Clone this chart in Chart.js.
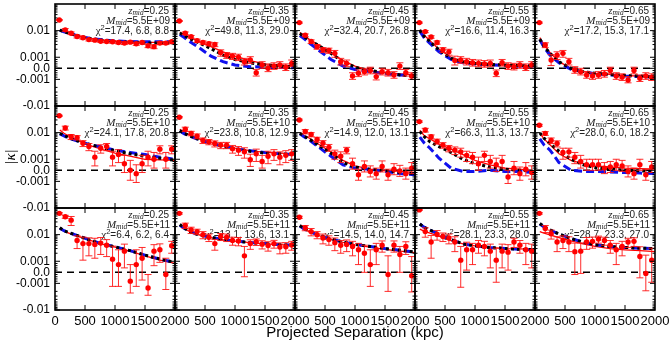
<!DOCTYPE html>
<html>
<head>
<meta charset="utf-8">
<script src="https://cdn.jsdelivr.net/npm/chart.js"></script>
<style>
  html, body { margin: 0; padding: 0; background: #fff; }
  #wrap { width: 672px; height: 347px; }
</style>
</head>
<body>
<div id="wrap"><canvas id="grid" width="672" height="347"></canvas></div>
<script>
// ---- data ----
var sepKpc = [72, 171, 269, 368, 466, 565, 664, 762, 861, 959, 1058, 1157, 1255, 1354, 1452, 1551, 1650, 1748, 1847, 1945];
var modelKpc = [80, 150, 250, 400, 600, 800, 1000, 1250, 1500, 1750, 2000];

var zMid = ['0.25', '0.35', '0.45', '0.55', '0.65'];
var mMid = ['5.5E+09', '5.5E+10', '5.5E+11'];
var chiText = [
  '17.4, 6.8, 8.8', '49.8, 11.3, 29.0', '32.4, 20.7, 26.8', '16.6, 11.4, 16.3', '17.2, 15.3, 17.1',
  '24.1, 17.8, 20.8', '23.8, 10.8, 12.9', '14.9, 12.0, 13.1', '66.3, 11.3, 13.7', '28.0, 6.0, 18.2',
  '6.4, 6.2, 6.4', '13.1, 13.6, 13.1', '14.5, 14.0, 14.7', '28.1, 23.3, 28.0', '28.7, 23.3, 27.0'
];

var yTickVals = [-0.01, -0.001, 0, 0.001, 0.01];
var yTickText = ['-0.01', '-0.001', '0.0', '0.001', '0.01'];
var xTitle = 'Projected Separation (kpc)';

// measured |kappa| per panel (row-major: M09 row, M10 row, M11 row)
var kappa = [
  [0.025, 0.0107, 0.008, 0.006, 0.0054, 0.0046, 0.0044, 0.0040, 0.0039, 0.0038, 0.0036, 0.0034, 0.0037, 0.0032, 0.0036, 0.0027, 0.0025, 0.0034, 0.0034, 0.0038],
  [0.023, 0.008, 0.0059, 0.0042, 0.0036, 0.0032, 0.003, 0.0015, 0.0012, 0.0011, 0.001, 0.0006, 0.00075, -0.0004, 0.0003, 0.0, 0.0002, 0.0003, 0.0001, 0.00045],
  [0.02, 0.0067, 0.0039, 0.0025, 0.0019, 0.0018, 0.0014, 0.0006, 0.00045, -0.0007, -0.00045, -0.0003, -0.0002, -0.00075, -0.0003, -0.0004, -0.0006, 0.0002, -0.0004, -0.0007],
  [0.02, 0.0092, 0.0058, 0.0036, 0.0019, 0.0016, 0.0007, 0.00075, 0.0006, 0.0005, 0.00045, 0.0004, 0.00045, -0.00045, 0.0005, 0.0002, 0.00015, 0.0003, 0.0001, 0.0003],
  [0.02, 0.0029, 0.00075, 0.0012, 0.0014, 0.0006, -0.00015, -0.0003, -0.0006, -0.0007, -0.0006, -0.0005, -0.0002, -0.0007, -0.0008, -0.00105, -0.0002, -0.0009, -0.0007, -0.0008],
  [0.043, 0.015, 0.007, 0.0065, 0.004, 0.003, 0.0012, 0.0026, 0.003, 0.0012, 0.0015, 0.0006, 0.0, -0.0003, 0.0006, 0.0012, 0.001, 0.0024, 0.001, 0.0024],
  [0.038, 0.0135, 0.0094, 0.0074, 0.0051, 0.0045, 0.0039, 0.0034, 0.0034, 0.0025, 0.0022, 0.0019, 0.00095, 0.0016, 0.0008, 0.0013, 0.0016, 0.0012, 0.0014, 0.0016],
  [0.03, 0.011, 0.0085, 0.0055, 0.004, 0.0028, 0.0016, 0.0013, 0.0022, 0.0006, -0.0004, 0.00035, -0.0001, -0.0003, 0.00035, -0.0004, 0.0001, -0.00005, -0.0003, 0.0002],
  [0.026, 0.0125, 0.007, 0.0047, 0.0034, 0.0026, 0.0022, 0.0019, 0.0014, 0.0012, 0.0006, 0.0014, 0.0008, 0.0005, 0.0008, -0.0006, 0.0002, -0.0003, 0.0001, -0.0002],
  [0.019, 0.0094, 0.0051, 0.0039, 0.0018, 0.0019, 0.0012, 0.0008, 0.0005, 0.0005, 0.0005, 0.0002, 0.0003, 0.0005, 0.0004, -0.0001, -0.0003, 0.0005, -0.0004, 0.0003],
  [0.063, 0.047, 0.035, 0.006, 0.0046, 0.0046, 0.0043, 0.0048, 0.004, 0.0012, 0.0007, 0.0024, -0.0008, 0.0007, 0.0013, -0.0015, 0.0024, 0.0027, -0.0002, 0.0038],
  [0.063, 0.022, 0.015, 0.013, 0.01, 0.008, 0.0046, 0.0085, 0.008, 0.006, 0.0058, 0.0016, 0.0046, 0.0054, 0.0044, 0.0039, 0.0046, 0.0034, 0.0035, 0.0041],
  [0.045, 0.018, 0.013, 0.01, 0.0075, 0.0065, 0.005, 0.004, 0.0043, 0.0036, 0.0027, 0.002, 0.0007, 0.0027, 0.004, -0.0002, 0.004, 0.0018, 0.0036, -0.0003],
  [0.085, 0.013, 0.0053, 0.0102, 0.0085, 0.0075, 0.0053, 0.0011, 0.0027, 0.0027, 0.004, 0.0036, 0.0024, 0.0011, 0.0024, 0.0022, 0.0053, 0.004, 0.0027, 0.0024],
  [0.063, 0.017, 0.0108, 0.0053, 0.006, 0.0053, 0.0023, 0.0024, 0.0053, 0.0056, 0.0068, 0.006, 0.004, 0.0027, 0.0036, 0.0053, 0.0056, 0.0015, -0.0001, 0.0011]
];

var kappaErr = [
  [0.0012, 0.0012, 0.0009, 0.0007, 0.0006, 0.0005, 0.0005, 0.0004, 0.0004, 0.0004, 0.0004, 0.0004, 0.0004, 0.0004, 0.0004, 0.0004, 0.0004, 0.0004, 0.0004, 0.0004],
  [0.001, 0.0009, 0.0007, 0.0006, 0.0005, 0.0005, 0.0005, 0.0004, 0.0003, 0.0003, 0.0003, 0.0003, 0.0003, 0.0003, 0.0003, 0.0003, 0.0003, 0.0003, 0.0003, 0.0003],
  [0.001, 0.0008, 0.0006, 0.0005, 0.0004, 0.0004, 0.0004, 0.0003, 0.0003, 0.0003, 0.0003, 0.0003, 0.0003, 0.0003, 0.0003, 0.0003, 0.0003, 0.0003, 0.0003, 0.0003],
  [0.001, 0.0008, 0.0006, 0.0005, 0.0004, 0.0004, 0.0004, 0.0003, 0.0003, 0.0003, 0.0003, 0.0003, 0.0003, 0.0003, 0.0003, 0.0003, 0.0003, 0.0003, 0.0003, 0.0003],
  [0.001, 0.0006, 0.0005, 0.0004, 0.0004, 0.0003, 0.0003, 0.0003, 0.0003, 0.0003, 0.0003, 0.0003, 0.0003, 0.0003, 0.0003, 0.0003, 0.0003, 0.0003, 0.0003, 0.0003],
  [0.002, 0.0025, 0.0015, 0.0012, 0.001, 0.0009, 0.0008, 0.0009, 0.0009, 0.0008, 0.0008, 0.0008, 0.0009, 0.0008, 0.0008, 0.0008, 0.0008, 0.0008, 0.0008, 0.0008],
  [0.002, 0.0025, 0.0018, 0.0015, 0.0012, 0.001, 0.001, 0.0009, 0.0009, 0.0008, 0.0008, 0.0008, 0.0006, 0.0008, 0.0006, 0.0007, 0.0007, 0.0007, 0.0007, 0.0007],
  [0.002, 0.002, 0.0015, 0.0012, 0.001, 0.0008, 0.0006, 0.0006, 0.0006, 0.0005, 0.0005, 0.0005, 0.0005, 0.0005, 0.0005, 0.0005, 0.0005, 0.0005, 0.0005, 0.0005],
  [0.0015, 0.002, 0.0012, 0.001, 0.0008, 0.0007, 0.0007, 0.0007, 0.0006, 0.0006, 0.0006, 0.0006, 0.0006, 0.0006, 0.0006, 0.0006, 0.0006, 0.0006, 0.0006, 0.0006],
  [0.0015, 0.0015, 0.0012, 0.001, 0.0008, 0.0007, 0.0006, 0.0006, 0.0005, 0.0005, 0.0005, 0.0005, 0.0005, 0.0005, 0.0005, 0.0005, 0.0005, 0.0005, 0.0005, 0.0005],
  [0.004, 0.006, 0.013, 0.003, 0.0035, 0.003, 0.003, 0.003, 0.0025, 0.0025, 0.002, 0.002, 0.0015, 0.002, 0.002, 0.0013, 0.0018, 0.0018, 0.0015, 0.0018],
  [0.004, 0.005, 0.004, 0.003, 0.003, 0.0025, 0.002, 0.0025, 0.0025, 0.002, 0.002, 0.002, 0.0018, 0.0015, 0.0015, 0.0015, 0.0015, 0.0015, 0.0015, 0.0015],
  [0.004, 0.004, 0.004, 0.003, 0.003, 0.0025, 0.0025, 0.002, 0.002, 0.002, 0.002, 0.002, 0.002, 0.002, 0.0018, 0.0018, 0.0018, 0.0018, 0.0018, 0.0018],
  [0.004, 0.005, 0.004, 0.004, 0.003, 0.003, 0.003, 0.0025, 0.0025, 0.002, 0.002, 0.002, 0.002, 0.002, 0.002, 0.002, 0.002, 0.002, 0.002, 0.002],
  [0.004, 0.005, 0.004, 0.003, 0.003, 0.003, 0.0025, 0.0025, 0.0025, 0.0025, 0.002, 0.002, 0.002, 0.002, 0.002, 0.002, 0.002, 0.002, 0.0018, 0.002]
];

// model curves sampled at modelKpc
var modelBlack = [
  [0.0105, 0.0092, 0.0078, 0.0062, 0.0050, 0.0043, 0.0039, 0.0036, 0.0034, 0.0034, 0.0035],
  [0.0082, 0.0066, 0.005, 0.0035, 0.0021, 0.0012, 0.0008, 0.0005, 0.0003, 0.0002, 0.0001],
  [0.0078, 0.006, 0.0042, 0.0027, 0.0014, 0.0006, 0.0001, -0.0002, -0.0004, -0.0006, -0.0007],
  [0.0105, 0.0062, 0.0039, 0.0019, 0.0009, 0.0006, 0.00045, 0.00035, 0.0003, 0.00025, 0.0002],
  [0.0048, 0.0026, 0.0014, 0.0006, 0.0, -0.0003, -0.00045, -0.00055, -0.00065, -0.0007, -0.0008],
  [0.0095, 0.0078, 0.0062, 0.0047, 0.0035, 0.0027, 0.0021, 0.0016, 0.0013, 0.0011, 0.0009],
  [0.012, 0.0095, 0.0075, 0.0055, 0.004, 0.003, 0.0024, 0.002, 0.0017, 0.0016, 0.0015],
  [0.0095, 0.0075, 0.0055, 0.0033, 0.0017, 0.0007, 0.0003, 0.0001, 0.0, -0.0002, -0.0003],
  [0.011, 0.0072, 0.0045, 0.003, 0.0018, 0.001, 0.0006, 0.0003, 0.0001, 0.0, -0.0001],
  [0.0098, 0.0062, 0.0039, 0.002, 0.001, 0.0005, 0.00025, 0.0001, 0.0, -0.00005, -0.0001],
  [0.018, 0.014, 0.0115, 0.0088, 0.006, 0.0043, 0.0035, 0.0025, 0.0017, 0.0012, 0.0009],
  [0.024, 0.018, 0.013, 0.0098, 0.0078, 0.0066, 0.0058, 0.005, 0.0046, 0.0042, 0.0039],
  [0.022, 0.017, 0.013, 0.0095, 0.0068, 0.0053, 0.0043, 0.0036, 0.003, 0.0026, 0.0022],
  [0.025, 0.019, 0.015, 0.0102, 0.0065, 0.0045, 0.0038, 0.0033, 0.003, 0.0028, 0.0027],
  [0.026, 0.02, 0.015, 0.0105, 0.0072, 0.0052, 0.0042, 0.0036, 0.0033, 0.0031, 0.003]
];

var modelBlue = [
  [0.0102, 0.009, 0.0077, 0.0062, 0.0051, 0.0045, 0.0041, 0.0039, 0.0038, 0.0038, 0.0039],
  [0.0072, 0.0056, 0.0038, 0.0023, 0.0011, 0.0006, 0.0003, 0.00015, 0.0001, 0.00008, 0.00005],
  [0.0065, 0.005, 0.0033, 0.0018, 0.0008, 0.0002, -0.0001, -0.0003, -0.0005, -0.0006, -0.0007],
  [0.0095, 0.0055, 0.0033, 0.0016, 0.0008, 0.0005, 0.0004, 0.0003, 0.00025, 0.0002, 0.0002],
  [0.0045, 0.0024, 0.0012, 0.0005, -0.0001, -0.0003, -0.0005, -0.0006, -0.0007, -0.00075, -0.0008],
  [0.009, 0.0075, 0.006, 0.0046, 0.0035, 0.0028, 0.0022, 0.0018, 0.0015, 0.0012, 0.001],
  [0.0115, 0.0092, 0.0073, 0.0054, 0.004, 0.0031, 0.0025, 0.0021, 0.0018, 0.0016, 0.0015],
  [0.009, 0.007, 0.005, 0.0028, 0.0013, 0.0005, 0.0002, 0.0001, -0.0001, -0.0003, -0.0004],
  [0.0068, 0.0042, 0.0026, 0.0011, 0.0002, -0.0001, -0.0001, 0.0, -0.0001, -0.0001, -0.0002],
  [0.0058, 0.0035, 0.0022, 0.0007, 0.0, -0.0001, -0.0001, -0.00015, -0.0002, -0.00025, -0.0003],
  [0.0175, 0.014, 0.0115, 0.0088, 0.006, 0.0044, 0.0035, 0.0025, 0.0017, 0.0012, 0.0009],
  [0.023, 0.0175, 0.013, 0.0098, 0.0078, 0.0066, 0.0058, 0.0051, 0.0046, 0.0042, 0.004],
  [0.021, 0.0165, 0.0128, 0.0094, 0.0068, 0.0053, 0.0043, 0.0036, 0.003, 0.0026, 0.0022],
  [0.025, 0.019, 0.015, 0.0102, 0.0065, 0.0045, 0.0038, 0.0033, 0.003, 0.0028, 0.0027],
  [0.025, 0.0195, 0.0148, 0.0105, 0.0072, 0.0052, 0.0042, 0.0036, 0.0033, 0.0031, 0.003]
];

var fitRed = [
  [0.0108, 0.0094, 0.0079, 0.0063, 0.0051, 0.0044, 0.0040, 0.0037, 0.0036, 0.0036, 0.0038],
  [0.0087, 0.0071, 0.0055, 0.004, 0.0025, 0.0016, 0.0011, 0.0007, 0.0004, 0.0003, 0.0002],
  [0.0085, 0.0065, 0.0045, 0.0029, 0.0015, 0.0007, 0.0002, -0.0002, -0.0004, -0.0005, -0.0006],
  [0.011, 0.0068, 0.0042, 0.002, 0.001, 0.0006, 0.0005, 0.0004, 0.0003, 0.00025, 0.0002],
  [0.0055, 0.003, 0.0015, 0.0006, 0.0, -0.0003, -0.00045, -0.00055, -0.00065, -0.0007, -0.00085],
  [0.0125, 0.0095, 0.007, 0.0048, 0.0032, 0.0023, 0.0017, 0.0013, 0.001, 0.00095, 0.0009],
  [0.0135, 0.0105, 0.008, 0.0058, 0.0042, 0.0032, 0.0026, 0.0021, 0.0018, 0.0017, 0.0016],
  [0.01, 0.008, 0.006, 0.0036, 0.0019, 0.0009, 0.0004, 0.0001, 0.0, -0.0001, -0.0002],
  [0.012, 0.008, 0.0058, 0.0037, 0.0024, 0.0015, 0.0009, 0.0005, 0.0002, 0.0001, -0.0001],
  [0.0095, 0.0058, 0.0035, 0.0016, 0.0009, 0.0006, 0.0004, 0.0003, 0.0002, 0.00015, 0.0001],
  [0.0165, 0.0135, 0.011, 0.0085, 0.006, 0.0043, 0.0034, 0.0024, 0.0016, 0.0011, 0.0008],
  [0.022, 0.017, 0.0128, 0.0097, 0.0077, 0.0065, 0.0057, 0.005, 0.0045, 0.0042, 0.0039],
  [0.02, 0.016, 0.0125, 0.0092, 0.0066, 0.0051, 0.0041, 0.0034, 0.0028, 0.0024, 0.0021],
  [0.016, 0.0135, 0.0115, 0.0088, 0.006, 0.0045, 0.0038, 0.0033, 0.003, 0.0029, 0.0028],
  [0.013, 0.0115, 0.0098, 0.0078, 0.0058, 0.0045, 0.0036, 0.003, 0.0027, 0.0025, 0.0023]
];

var SANS = 'Arial, Helvetica, sans-serif';
var SERIF = '"Times New Roman", Times, serif';

// ---- symmetric log axis (linear inside +-0.001) ----
var LIN = 0.001, LINW = 0.415;
function symT(v) {
  var a = Math.abs(v);
  if (a <= LIN) return v / LIN * LINW;
  return Math.sign(v) * (LINW + Math.log10(a / LIN));
}
function symInv(t) {
  var a = Math.abs(t);
  if (a <= LINW) return t / LINW * LIN;
  return Math.sign(t) * LIN * Math.pow(10, a - LINW);
}

class SymlogScale extends Chart.LinearScale {
  buildTicks() {
    return yTickVals.map(function(v) { return {value: v}; });
  }
  getPixelForValue(v) {
    if (v === null || isNaN(v)) return NaN;
    var a = symT(this.min), b = symT(this.max);
    return this.getPixelForDecimal((symT(v) - a) / (b - a));
  }
  getValueForPixel(p) {
    var a = symT(this.min), b = symT(this.max);
    return symInv(a + this.getDecimalForPixel(p) * (b - a));
  }
}
SymlogScale.id = 'symlog';
SymlogScale.defaults = {};
Chart.register(SymlogScale);

// ---- scales: 5 x axes stacked side by side, 3 y axes stacked top to bottom ----
var scales = {};
for (var c = 0; c < 5; c++) {
  scales['x' + c] = {
    type: 'linear', position: 'bottom', stack: 'cols', stackWeight: 1, weight: c,
    min: 0, max: 2000,
    grid: {display: false, drawTicks: false}, border: {display: false},
    ticks: {
      stepSize: 500, autoSkip: false, maxRotation: 0, padding: 4, color: '#000',
      font: {family: SANS, size: 13},
      callback: (function(col) {
        return function(v) { return (v === 0 && col > 0) ? '' : String(v); };
      })(c)
    },
    afterFit: function(s) {
      s.height = 37;
      s.paddingLeft = 0; s.paddingRight = 0; s.paddingTop = 0; s.paddingBottom = 0;
    }
  };
}
for (var r = 0; r < 3; r++) {
  scales['y' + r] = {
    type: 'symlog', position: 'left', stack: 'rows', stackWeight: 1, weight: 3 - r,
    min: -0.01, max: 0.1,
    grid: {display: false, drawTicks: false}, border: {display: false},
    ticks: {
      autoSkip: false, padding: 5, color: '#000',
      font: {family: SANS, size: 12},
      callback: function(v) { return yTickText[yTickVals.indexOf(v)]; }
    },
    title: {
      display: r === 1, text: '|κ|', color: '#000',
      font: {family: SERIF, size: 15, style: 'italic'}, padding: {top: 2, bottom: 0}
    },
    afterFit: function(s) {
      s.width = 55;
      s.paddingLeft = 0; s.paddingRight = 0; s.paddingTop = 0; s.paddingBottom = 0;
    }
  };
}

// ---- datasets ----
var datasets = [];
for (var r = 0; r < 3; r++) {
  for (var c = 0; c < 5; c++) {
    var p = r * 5 + c;
    var xid = 'x' + c, yid = 'y' + r;
    datasets.push({
      label: 'data', isPoints: true, errs: kappaErr[p], panel: p,
      data: sepKpc.map(function(x, i) { return {x: x, y: kappa[p][i]}; }),
      showLine: false, pointRadius: 2.7, pointBorderWidth: 0,
      pointBackgroundColor: '#ff0000', borderColor: '#ff0000',
      xAxisID: xid, yAxisID: yid, order: 0
    });
    datasets.push({
      label: 'black',
      data: modelKpc.map(function(x, i) { return {x: x, y: modelBlack[p][i]}; }),
      borderColor: '#000', borderWidth: 3, borderDash: [3, 3], pointRadius: 0, fill: false,
      xAxisID: xid, yAxisID: yid, order: 1
    });
    datasets.push({
      label: 'blue',
      data: modelKpc.map(function(x, i) { return {x: x, y: modelBlue[p][i]}; }),
      borderColor: '#1010ee', borderWidth: 3, borderDash: [8, 4], pointRadius: 0, fill: false,
      xAxisID: xid, yAxisID: yid, order: 2
    });
    datasets.push({
      label: 'fit',
      data: modelKpc.map(function(x, i) { return {x: x, y: fitRed[p][i]}; }),
      borderColor: '#ff0000', borderWidth: 1.3, pointRadius: 0, fill: false,
      xAxisID: xid, yAxisID: yid, order: 3
    });
  }
}

function panelBox(chart, r, c) {
  var xs = chart.scales['x' + c], ys = chart.scales['y' + r];
  return {xs: xs, ys: ys, L: xs.left, R: xs.right, T: ys.top, B: ys.bottom};
}

function drawRich(ctx, parts, right, midY) {
  var w = 0;
  parts.forEach(function(pt) { ctx.font = pt.font; pt.w = ctx.measureText(pt.text).width; w += pt.w; });
  var x = right - w;
  ctx.textAlign = 'left';
  ctx.textBaseline = 'middle';
  parts.forEach(function(pt) { ctx.font = pt.font; ctx.fillText(pt.text, x, midY + (pt.dy || 0)); x += pt.w; });
}

var ITAL = 'italic 11px ' + SERIF;
var SUB = 'italic 7.5px ' + SERIF;
var TXT = '10px ' + SANS;

// panel labels + zero lines under the data
var underPlugin = {
  id: 'under',
  beforeDatasetsDraw: function(chart) {
    var ctx = chart.ctx;
    for (var r = 0; r < 3; r++) {
      for (var c = 0; c < 5; c++) {
        var b = panelBox(chart, r, c), p = r * 5 + c;
        ctx.save();
        ctx.fillStyle = '#222';
        drawRich(ctx, [{text: 'z', font: ITAL}, {text: 'mid', font: SUB, dy: 2.5}, {text: '=' + zMid[c], font: TXT}], b.R - 6, b.T + 7);
        drawRich(ctx, [{text: 'M', font: ITAL}, {text: 'mid', font: SUB, dy: 2.5}, {text: '=' + mMid[r], font: TXT}], b.R - 5, b.T + 17);
        drawRich(ctx, [{text: 'χ', font: '11px ' + SERIF}, {text: '2', font: '7.5px ' + SANS, dy: -3.5}, {text: '=' + chiText[p], font: TXT}], b.R - 6, b.T + 27);
        var y0 = b.ys.getPixelForValue(0);
        ctx.strokeStyle = '#000';
        ctx.lineWidth = 1.5;
        ctx.setLineDash([7, 5]);
        ctx.beginPath();
        ctx.moveTo(b.L, y0);
        ctx.lineTo(b.R, y0);
        ctx.stroke();
        ctx.restore();
      }
    }
  },
  // error bars under each points dataset
  beforeDatasetDraw: function(chart, args) {
    var ds = chart.data.datasets[args.index];
    if (!ds.isPoints) return;
    var meta = args.meta, ctx = chart.ctx;
    var xs = chart.scales[meta.xAxisID], ys = chart.scales[meta.yAxisID];
    ctx.save();
    ctx.beginPath();
    ctx.rect(xs.left, ys.top, xs.right - xs.left, ys.bottom - ys.top);
    ctx.clip();
    ctx.strokeStyle = 'rgba(255,20,20,0.9)';
    ctx.lineWidth = 1;
    ds.data.forEach(function(pt, i) {
      var e = ds.errs[i];
      var x = xs.getPixelForValue(pt.x);
      var y1 = ys.getPixelForValue(pt.y - e), y2 = ys.getPixelForValue(pt.y + e);
      ctx.beginPath();
      ctx.moveTo(x, y1); ctx.lineTo(x, y2);
      ctx.moveTo(x - 3.5, y1); ctx.lineTo(x + 3.5, y1);
      ctx.moveTo(x - 3.5, y2); ctx.lineTo(x + 3.5, y2);
      ctx.stroke();
    });
    ctx.restore();
  }
};

// frames, inward tick marks and the shared x title on top
var framePlugin = {
  id: 'frame',
  afterDraw: function(chart) {
    var ctx = chart.ctx;
    var minor = [];
    [0.0002, 0.0004, 0.0006, 0.0008].forEach(function(v) { minor.push(v, -v); });
    for (var m = 2; m <= 9; m++) { minor.push(m * 0.001, m * 0.01, -m * 0.001); }
    for (var r = 0; r < 3; r++) {
      for (var c = 0; c < 5; c++) {
        var b = panelBox(chart, r, c);
        ctx.save();
        ctx.strokeStyle = '#000';
        ctx.lineWidth = 1;
        ctx.beginPath();
        yTickVals.forEach(function(v) {
          var y = b.ys.getPixelForValue(v);
          ctx.moveTo(b.L, y); ctx.lineTo(b.L + 5, y);
          ctx.moveTo(b.R, y); ctx.lineTo(b.R - 5, y);
        });
        minor.forEach(function(v) {
          var y = b.ys.getPixelForValue(v);
          ctx.moveTo(b.L, y); ctx.lineTo(b.L + 2.5, y);
          ctx.moveTo(b.R, y); ctx.lineTo(b.R - 2.5, y);
        });
        [500, 1000, 1500].forEach(function(v) {
          var x = b.xs.getPixelForValue(v);
          ctx.moveTo(x, b.T); ctx.lineTo(x, b.T + 5);
          ctx.moveTo(x, b.B); ctx.lineTo(x, b.B - 5);
        });
        ctx.stroke();
        ctx.lineWidth = 1.6;
        ctx.strokeRect(b.L, b.T, b.R - b.L, b.B - b.T);
        ctx.restore();
      }
    }
    var x0 = chart.scales.x0.left, x4 = chart.scales.x4.right;
    ctx.save();
    ctx.fillStyle = '#000';
    ctx.font = '15px ' + SANS;
    ctx.textAlign = 'center';
    ctx.textBaseline = 'middle';
    ctx.fillText(xTitle, (x0 + x4) / 2, chart.scales.x2.bottom - 14);
    ctx.restore();
  }
};

new Chart(document.getElementById('grid').getContext('2d'), {
  type: 'line',
  data: {datasets: datasets},
  options: {
    responsive: false,
    animation: false,
    devicePixelRatio: 1,
    layout: {padding: {left: 0, right: 17, top: 4, bottom: 0}},
    plugins: {legend: {display: false}, tooltip: {enabled: false}},
    scales: scales
  },
  plugins: [underPlugin, framePlugin]
});
</script>
</body>
</html>
